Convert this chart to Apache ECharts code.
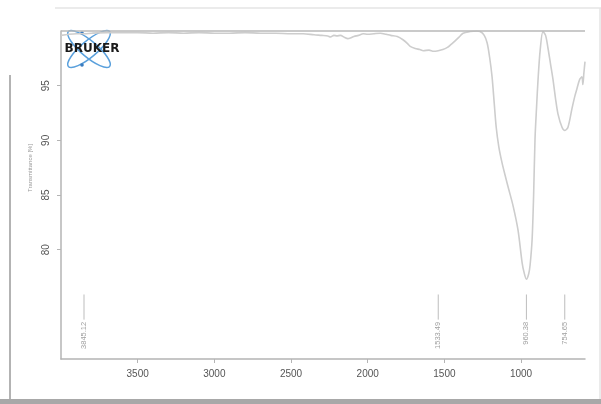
<!DOCTYPE html>
<html>
<head>
<meta charset="utf-8">
<script src="https://cdn.jsdelivr.net/npm/echarts@6/dist/echarts.min.js"></script>
<style>html,body{margin:0;padding:0;background:#fff;}#c{width:601px;height:404px;}</style>
</head>
<body>
<div id="c"></div>
<script>
// Wavenumbers (cm-1) and transmittance (%)
const wavenumbers = [4000,3950,3900,3845,3800,3700,3600,3500,3400,3300,3200,3100,3000,2900,2800,2700,2600,2500,2420,2350,2300,2260,2243,2220,2200,2178,2150,2130,2113,2090,2060,2029,2000,1960,1918,1880,1850,1807,1770,1740,1723,1690,1660,1638,1600,1570,1540,1510,1480,1462,1430,1400,1378,1332,1290,1267,1240,1221,1205,1189,1175,1162,1145,1125,1104,1080,1052,1020,993,980,965,950,941,928,918,909,899,889,875,857,840,824,808,792,775,759,733,714,694,668,650,636,617,603,597,590,583];
const transmittance = [99.6,99.7,99.75,99.75,99.8,99.85,99.85,99.85,99.8,99.85,99.8,99.85,99.8,99.8,99.85,99.8,99.8,99.75,99.75,99.65,99.6,99.55,99.45,99.6,99.55,99.6,99.4,99.3,99.35,99.5,99.6,99.75,99.7,99.75,99.8,99.7,99.6,99.5,99.2,98.85,98.6,98.4,98.3,98.2,98.25,98.15,98.2,98.3,98.5,98.7,99.1,99.5,99.8,99.95,100,99.95,99.6,98.9,97.6,95.8,93.4,91.2,89.4,88.0,86.8,85.5,84.0,81.8,78.8,77.9,77.3,77.8,78.6,80.9,85,90.1,93,95.6,98.3,99.95,99.6,98.4,97.0,95.6,93.8,92.4,91.2,90.9,91.2,92.9,94.0,94.7,95.6,95.8,95.1,96.2,97.2];
// Peak annotations
const peakPositions = [3850, 1540, 965, 715];
const peakLabels = ['3845.12', '1533.49', '960.38', '754.65'];
// Tick labels
const xTicks = [3500, 3000, 2500, 2000, 1500, 1000];
const yTicks = [80, 85, 90, 95];

const spectrum = wavenumbers.map((w, i) => [w, transmittance[i]]);
const peaks = peakPositions.map((p, i) => [p, peakLabels[i]]);

const chart = echarts.init(document.getElementById('c'), null, {renderer: 'canvas'});
const axisCol = '#b4b4b4';
chart.setOption({
  animation: false,
  backgroundColor: '#fff',
  grid: {left: 61, right: 16, top: 31, bottom: 45},
  xAxis: {
    type: 'value', inverse: true, min: 583, max: 4000,
    splitLine: {show: false},
    axisLine: {lineStyle: {color: axisCol, width: 1.5}},
    axisTick: {show: true, length: 4, lineStyle: {color: axisCol}, customValues: xTicks},
    axisLabel: {color: '#555', fontSize: 10, fontFamily: 'Liberation Sans', margin: 10, customValues: xTicks,
                formatter: v => String(v)}
  },
  yAxis: {
    type: 'value', min: 70, max: 100,
    splitLine: {show: false},
    axisLine: {show: true, lineStyle: {color: axisCol, width: 1.5}},
    axisTick: {show: true, length: 4, lineStyle: {color: axisCol}, customValues: yTicks},
    axisLabel: {color: '#555', fontSize: 10, fontFamily: 'Liberation Sans', rotate: 90, margin: 10, customValues: yTicks,
                formatter: v => String(v)}
  },
  series: [
    {
      type: 'line', data: spectrum, showSymbol: false, smooth: 0.3,
      lineStyle: {color: '#cdcdcd', width: 1.6},
      markLine: {
        silent: true, symbol: 'none', label: {show: false},
        lineStyle: {color: '#b8b8b8', width: 1.6, type: 'solid'},
        data: [{yAxis: 100}]
      }
    },
    {
      type: 'custom', data: peaks,
      renderItem: function (params, api) {
        const x = api.coord([api.value(0), 76])[0];
        const y1 = api.coord([api.value(0), 75.9])[1];
        const y2 = api.coord([api.value(0), 73.6])[1];
        const y3 = api.coord([api.value(0), 73.4])[1];
        return {
          type: 'group',
          children: [
            {type: 'line', shape: {x1: x, y1: y1, x2: x, y2: y2}, style: {stroke: '#bdbdbd', lineWidth: 1}},
            {type: 'text', x: x, y: y3, rotation: Math.PI / 2,
             style: {text: peakLabels[params.dataIndex], fill: '#a0a0a0', fontSize: 7.5, fontFamily: 'Liberation Sans', align: 'right', verticalAlign: 'middle'}}
          ]
        };
      }
    }
  ],
  graphic: [
    {type: 'line', shape: {x1: 55, y1: 8, x2: 601, y2: 8}, style: {stroke: '#e4e4e4', lineWidth: 1.5}},
    {type: 'line', shape: {x1: 600, y1: 8, x2: 600, y2: 404}, style: {stroke: '#e4e4e4', lineWidth: 1.5}},
    {type: 'line', shape: {x1: 10, y1: 75, x2: 10, y2: 404}, style: {stroke: '#9a9a9a', lineWidth: 1.5}},
    {type: 'rect', shape: {x: 0, y: 399, width: 601, height: 5}, style: {fill: '#a8a8a8'}},
    {type: 'text', x: 30, y: 168, rotation: Math.PI / 2,
     style: {text: 'Transmittance [%]', fill: '#999', fontSize: 6, fontFamily: 'Liberation Sans', align: 'center', verticalAlign: 'middle'}},
    {type: 'ellipse', x: 89, y: 49, rotation: 0.7, shape: {cx: 0, cy: 0, rx: 27, ry: 8}, style: {fill: 'none', stroke: '#5aa0dc', lineWidth: 1.5}},
    {type: 'ellipse', x: 89, y: 49, rotation: -0.7, shape: {cx: 0, cy: 0, rx: 27, ry: 8}, style: {fill: 'none', stroke: '#5aa0dc', lineWidth: 1.5}},
    {type: 'circle', shape: {cx: 82, cy: 33, r: 1.8}, style: {fill: '#3a7cc0'}},
    {type: 'circle', shape: {cx: 82, cy: 65, r: 1.8}, style: {fill: '#3a7cc0'}},
    {type: 'text', x: 92, y: 49,
     style: {text: 'BRUKER', fill: '#1a1a1a', fontSize: 12, fontWeight: 'bold', fontFamily: 'DejaVu Sans', align: 'center', verticalAlign: 'middle'}}
  ]
});
</script>
</body>
</html>
